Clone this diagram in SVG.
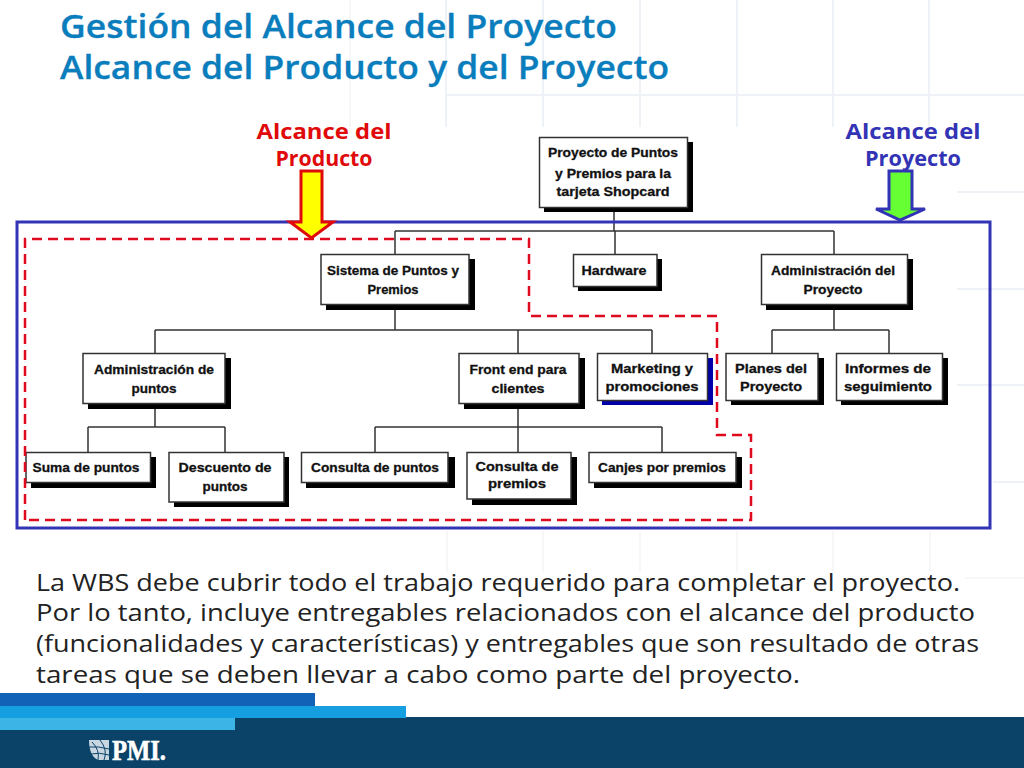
<svg xmlns="http://www.w3.org/2000/svg" width="1024" height="768" viewBox="0 0 1024 768">
<style>
.bg{fill:#fff}
.grid line{stroke:#eef1f5;stroke-width:2;fill:none}
.gridf line{stroke:#f6f7f9;stroke-width:2;fill:none}
.title{font:600 32px "Open Sans","Liberation Sans",sans-serif;fill:#0a7dbd;stroke:#0a7dbd;stroke-width:.3}
.body{font:400 24px "Open Sans","Liberation Sans",sans-serif;fill:#222}
.lab{font:700 21px "Open Sans","Liberation Sans",sans-serif;text-anchor:middle}
.red{fill:#e00a0a}
.blue{fill:#3333b5}
.box{fill:#fff;stroke:#333;stroke-width:1.500}
.sh{fill:#000}
.shb{fill:#0000a8}
.nt{font:700 13px "Liberation Sans",Arial,sans-serif;fill:#111;stroke:#111;stroke-width:.3;text-anchor:middle}
#connectors path{fill:none;stroke:#333;stroke-width:1.500}
</style>
<rect class="bg" width="1024" height="768"/>
<g class="grid">
<line x1="446" y1="95" x2="1024" y2="95"/>
<line x1="446" y1="0" x2="446" y2="127"/><line x1="543" y1="0" x2="543" y2="127"/><line x1="640" y1="0" x2="640" y2="127"/><line x1="737" y1="0" x2="737" y2="127"/><line x1="833" y1="0" x2="833" y2="127"/><line x1="929" y1="0" x2="929" y2="127"/>
<line x1="957" y1="192" x2="1024" y2="192"/><line x1="957" y1="289" x2="1024" y2="289"/><line x1="957" y1="385" x2="1024" y2="385"/><line x1="993" y1="482" x2="1024" y2="482"/>
</g>
<g class="gridf">
<line x1="350" y1="0" x2="350" y2="127"/>
<line x1="447" y1="531" x2="447" y2="572"/><line x1="543" y1="531" x2="543" y2="572"/><line x1="640" y1="531" x2="640" y2="572"/><line x1="737" y1="531" x2="737" y2="572"/><line x1="833" y1="531" x2="833" y2="572"/><line x1="930" y1="531" x2="930" y2="572"/>
<line x1="965" y1="578" x2="1024" y2="578"/>
</g>

<g id="title">
<text class="title" x="60" y="38" textLength="557" lengthAdjust="spacingAndGlyphs">Gestión del Alcance del Proyecto</text>
<text class="title" x="60" y="79" textLength="609" lengthAdjust="spacingAndGlyphs">Alcance del Producto y del Proyecto</text>
</g>

<g id="connectors">
<path d="M614 207V231M395 231H834M395 231V254M615 231V254M834 231V254"/>
<path d="M395 304V330M155 330H652M155 330V354M518 330V354M652 330V353"/>
<path d="M834 304V330M772 330H889M772 330V353M889 330V353"/>
<path d="M155 404V427M88 427H225M88 427V452M225 427V452"/>
<path d="M518 404V427M375 427H662M375 427V452M518 427V452M662 427V452"/>
</g>

<g id="n-root"><rect class="sh" x="544" y="142" width="149" height="70"/><rect class="box" x="539.500" y="137.500" width="148" height="70"/>
<text class="nt" x="613" y="157" textLength="130" lengthAdjust="spacingAndGlyphs">Proyecto de Puntos</text><text class="nt" x="613" y="178" textLength="116" lengthAdjust="spacingAndGlyphs">y Premios para la</text><text class="nt" x="613" y="196" textLength="113" lengthAdjust="spacingAndGlyphs">tarjeta Shopcard</text></g>
<g id="n-sistema"><rect class="sh" x="326" y="259" width="149" height="51"/><rect class="box" x="321" y="254.500" width="148" height="50"/>
<text class="nt" x="393" y="275" textLength="132" lengthAdjust="spacingAndGlyphs">Sistema de Puntos y</text><text class="nt" x="393" y="294" textLength="51" lengthAdjust="spacingAndGlyphs">Premios</text></g>
<g id="n-hardware"><rect class="sh" x="578" y="259" width="84" height="32"/><rect class="box" x="573.500" y="254.500" width="83.500" height="32"/>
<text class="nt" x="614" y="275" textLength="65" lengthAdjust="spacingAndGlyphs">Hardware</text></g>
<g id="n-admproy"><rect class="sh" x="766" y="259" width="147" height="51"/><rect class="box" x="761.500" y="254.500" width="146" height="50"/>
<text class="nt" x="833" y="275" textLength="124" lengthAdjust="spacingAndGlyphs">Administración del</text><text class="nt" x="833" y="294" textLength="59" lengthAdjust="spacingAndGlyphs">Proyecto</text></g>
<g id="n-admpun"><rect class="sh" x="88" y="358" width="143" height="51"/><rect class="box" x="83" y="353.500" width="142" height="50"/>
<text class="nt" x="154" y="374" textLength="120" lengthAdjust="spacingAndGlyphs">Administración de</text><text class="nt" x="154" y="393" textLength="45" lengthAdjust="spacingAndGlyphs">puntos</text></g>
<g id="n-front"><rect class="sh" x="464" y="358" width="121" height="51"/><rect class="box" x="459" y="353.500" width="120" height="50"/>
<text class="nt" x="518" y="374" textLength="97" lengthAdjust="spacingAndGlyphs">Front end para</text><text class="nt" x="518" y="393" textLength="53" lengthAdjust="spacingAndGlyphs">clientes</text></g>
<g id="n-marketing"><rect class="shb" x="602" y="358" width="111" height="47"/><rect class="box" x="597.500" y="353.500" width="110" height="47"/>
<text class="nt" x="652" y="373" textLength="82" lengthAdjust="spacingAndGlyphs">Marketing y</text><text class="nt" x="652" y="391" textLength="93" lengthAdjust="spacingAndGlyphs">promociones</text></g>
<g id="n-planes"><rect class="sh" x="731" y="358" width="93" height="47"/><rect class="box" x="726" y="353.500" width="92" height="47"/>
<text class="nt" x="771" y="373" textLength="72" lengthAdjust="spacingAndGlyphs">Planes del</text><text class="nt" x="771" y="391" textLength="62" lengthAdjust="spacingAndGlyphs">Proyecto</text></g>
<g id="n-informes"><rect class="sh" x="841" y="358" width="107" height="47"/><rect class="box" x="836.500" y="353.500" width="106" height="47"/>
<text class="nt" x="888" y="373" textLength="86" lengthAdjust="spacingAndGlyphs">Informes de</text><text class="nt" x="888" y="391" textLength="88" lengthAdjust="spacingAndGlyphs">seguimiento</text></g>
<g id="n-suma"><rect class="sh" x="31" y="457" width="125" height="31"/><rect class="box" x="26" y="452.500" width="124.500" height="30"/>
<text class="nt" x="86" y="472" textLength="107" lengthAdjust="spacingAndGlyphs">Suma de puntos</text></g>
<g id="n-descuento"><rect class="sh" x="174" y="457" width="115" height="50"/><rect class="box" x="169" y="452.500" width="115" height="49.500"/>
<text class="nt" x="225" y="472" textLength="93" lengthAdjust="spacingAndGlyphs">Descuento de</text><text class="nt" x="225" y="491" textLength="45" lengthAdjust="spacingAndGlyphs">puntos</text></g>
<g id="n-conspun"><rect class="sh" x="306" y="457" width="149" height="31"/><rect class="box" x="301.500" y="452.500" width="146.500" height="30"/>
<text class="nt" x="375" y="472" textLength="128" lengthAdjust="spacingAndGlyphs">Consulta de puntos</text></g>
<g id="n-conspre"><rect class="sh" x="472" y="457" width="105" height="48"/><rect class="box" x="467" y="452.500" width="104" height="46.500"/>
<text class="nt" x="517" y="471" textLength="83" lengthAdjust="spacingAndGlyphs">Consulta de</text><text class="nt" x="517" y="488" textLength="58" lengthAdjust="spacingAndGlyphs">premios</text></g>
<g id="n-canjes"><rect class="sh" x="594" y="457" width="148" height="31"/><rect class="box" x="589" y="452.500" width="147" height="30"/>
<text class="nt" x="662" y="472" textLength="128" lengthAdjust="spacingAndGlyphs">Canjes por premios</text></g>

<rect id="frame-proyecto" x="17" y="222" width="973" height="306" fill="none" stroke="#3333b5" stroke-width="3"/>
<path id="frame-producto" d="M25 520V239H529V316H717V435H751V520Z" fill="none" stroke="#e00a1e" stroke-width="2.500" stroke-dasharray="10 6"/>

<g id="arrow-producto"><path d="M301 171H322V222H333L311.500 238L290 222H301Z" fill="#ffff00" stroke="#e00a0a" stroke-width="3"/></g>
<g id="arrow-proyecto"><path d="M889 171H912V209H925L900 220L876 209H889Z" fill="#66ff33" stroke="#3333b5" stroke-width="3"/></g>

<g id="label-producto"><text class="lab red" x="324" y="139" textLength="135" lengthAdjust="spacingAndGlyphs">Alcance del</text><text class="lab red" x="324" y="166" textLength="97" lengthAdjust="spacingAndGlyphs">Producto</text></g>
<g id="label-proyecto"><text class="lab blue" x="913" y="139" textLength="135" lengthAdjust="spacingAndGlyphs">Alcance del</text><text class="lab blue" x="913" y="166" textLength="96" lengthAdjust="spacingAndGlyphs">Proyecto</text></g>

<g id="body">
<text class="body" x="36" y="591" textLength="924" lengthAdjust="spacingAndGlyphs">La WBS debe cubrir todo el trabajo requerido para completar el proyecto.</text>
<text class="body" x="36" y="621" textLength="939" lengthAdjust="spacingAndGlyphs">Por lo tanto, incluye entregables relacionados con el alcance del producto</text>
<text class="body" x="36" y="652" textLength="943" lengthAdjust="spacingAndGlyphs">(funcionalidades y características) y entregables que son resultado de otras</text>
<text class="body" x="36" y="683" textLength="764" lengthAdjust="spacingAndGlyphs">tareas que se deben llevar a cabo como parte del proyecto.</text>
</g>

<g id="footer">
<rect x="0" y="717" width="1024" height="51" fill="#0a4268"/>
<rect x="0" y="693" width="315" height="13" fill="#1262b8"/>
<rect x="0" y="706" width="406" height="12" fill="#169fe0"/>
<rect x="0" y="718" width="235" height="12" fill="#3db4e6"/>
</g>
<g id="logo">
<path d="M89 740H109V760H98C92 757 89 751 89 740Z" fill="#c8d6e2"/>
<path d="M92 742Q100 750 98 760M89 747Q98 746 109 749M91 754Q99 752 109 755M100 740Q108 750 104 760" fill="none" stroke="#0a4268" stroke-width="1"/>
<text x="112" y="760" font-family="Liberation Serif,serif" font-weight="700" font-size="30" fill="#fff" stroke="#fff" stroke-width=".6" textLength="54" lengthAdjust="spacingAndGlyphs">PMI.</text>
</g>
</svg>
